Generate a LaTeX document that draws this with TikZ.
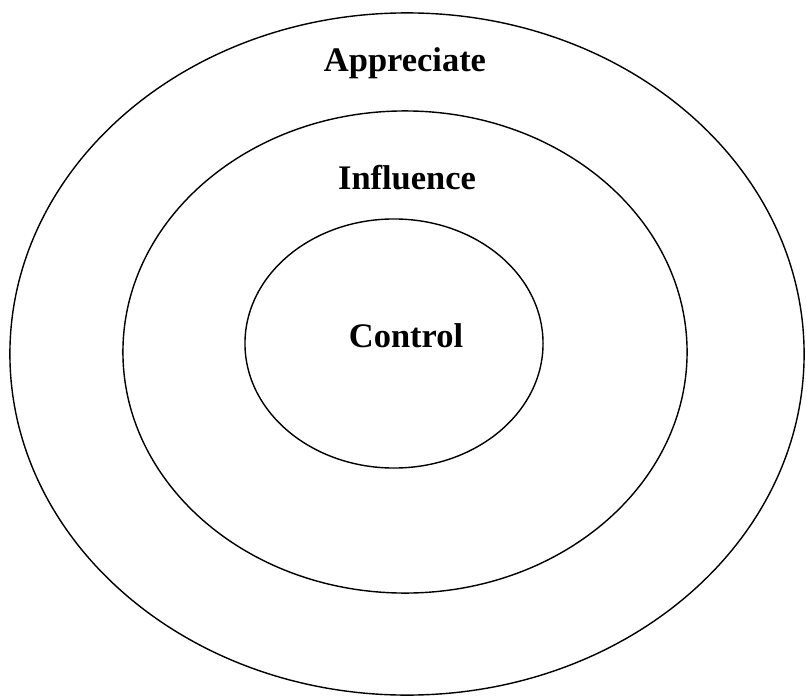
\documentclass[tikz,border=0pt]{standalone}
\usepackage{fontspec}
\setmainfont{Liberation Serif}
\usetikzlibrary{shapes.geometric}
\tikzset{
	ringstyle/.style={ellipse,draw=black,line width=1pt,inner sep=0pt},
	labelstyle/.style={anchor=base,font=\fontsize{24.5}{28}\selectfont\bfseries}
}
\begin{document}
\begin{tikzpicture}[x=0.025cm,y=-0.025cm]
	\useasboundingbox (0,0) rectangle (806,695);
	\node[ringstyle,minimum width=19.85cm,minimum height=17.05cm] (appreciate) at (407,354) {};
	\node[ringstyle,minimum width=14.1cm,minimum height=12.05cm] (influence) at (405,352) {};
	\node[ringstyle,minimum width=7.45cm,minimum height=6.225cm] (control) at (394,343.5) {};
	\node[labelstyle] (appreciatetext) at (405,72) {Appreciate};
	\node[labelstyle] (influencetext) at (407,190) {Influence};
	\node[labelstyle] (controltext) at (406,347) {Control};
\end{tikzpicture}
\end{document}
